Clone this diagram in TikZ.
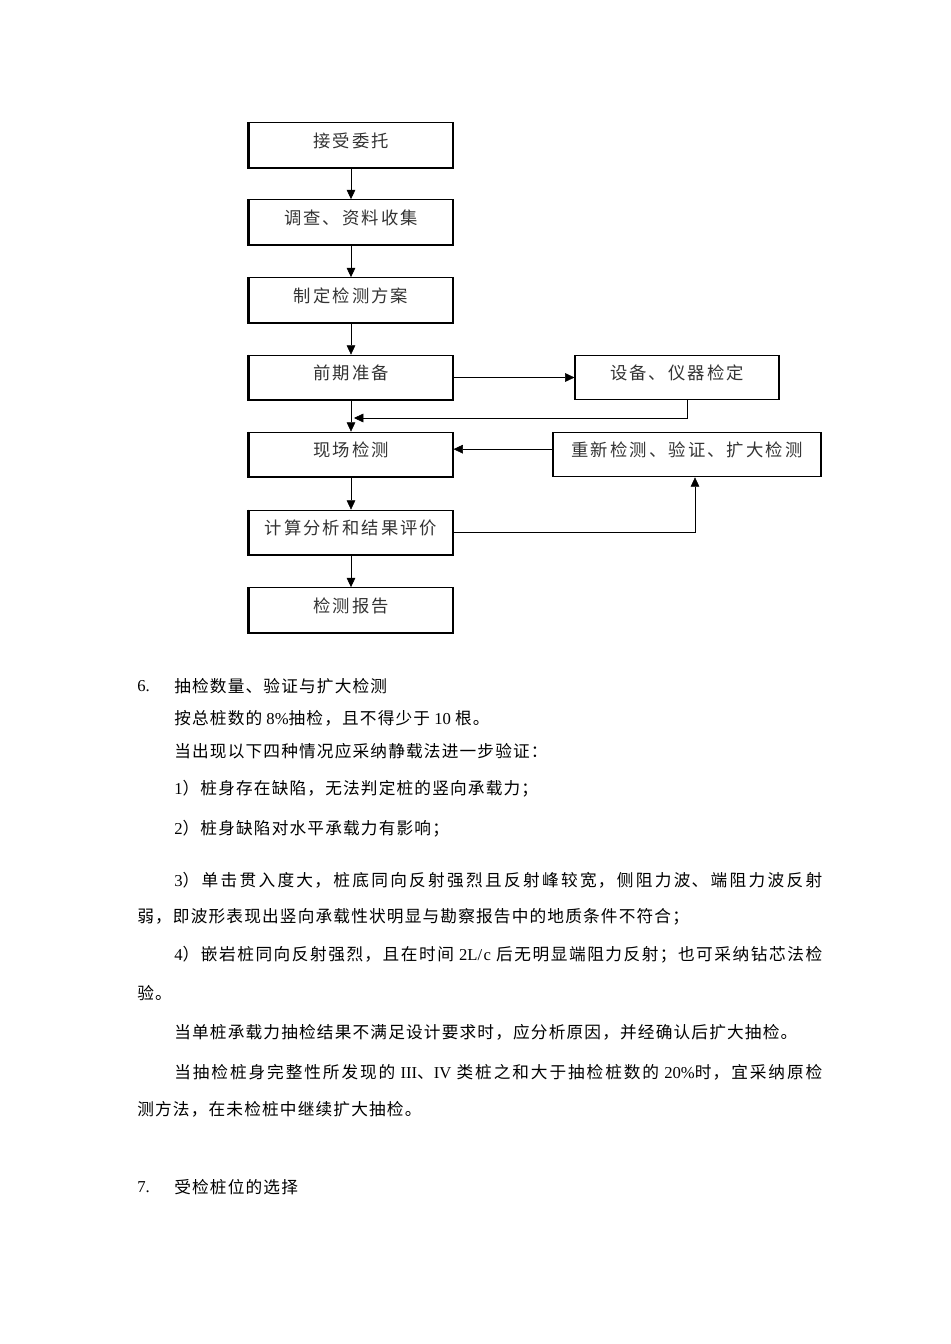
\documentclass[tikz,border=0pt]{standalone}
\usepackage{fontspec}
\setmainfont{Noto Sans CJK SC}[LetterSpace=7]
\newfontfamily\en{Liberation Serif}
\newfontfamily\boxfont{Noto Sans CJK SC}[LetterSpace=12]
\usetikzlibrary{arrows.meta,positioning,calc}
\XeTeXlinebreaklocale "zh"
\XeTeXlinebreakskip=0pt plus 3pt
\tikzset{>={Triangle[length=7pt,width=6.5pt]},
	stepbox/.style={draw=black,line width=0.8pt,minimum width=153pt,minimum height=33.5pt,inner sep=0pt,
		font=\boxfont\fontsize{13pt}{15pt}\selectfont,text=black!80,text height=11pt,text depth=7.6pt},
	txt/.style={anchor=west,inner sep=0pt,font=\fontsize{12.5pt}{15pt}\selectfont},
	jline/.style={txt,text width=486pt,align=justify,execute at begin node={\parfillskip=0pt\noindent}}}

\begin{document}
\begin{tikzpicture}[x=0.75pt,y=-0.75pt]
	\useasboundingbox (0,0) rectangle (950,1344);
	% flow chart
	\node (b1) at (351,145) [stepbox] {接受委托};
	\node (b2) at (351,222) [stepbox] {调查、资料收集};
	\node (b3) at (351,300) [stepbox] {制定检测方案};
	\node (b4) at (351,377.5) [stepbox] {前期准备};
	\node (b5) at (677,377.5) [stepbox] {设备、仪器检定};
	\node (b6) at (351,454.5) [stepbox] {现场检测};
	\node (b7) at (687,454.5) [stepbox,minimum width=201pt] {重新检测、验证、扩大检测};
	\node (b8) at (351,532.5) [stepbox] {计算分析和结果评价};
	\node (b9) at (351,610) [stepbox] {检测报告};
	\foreach \b in {b1,b2,b3,b4,b6,b8,b9}
		\draw [line width=1.2pt] ([xshift=-0.2pt]\b.north west) -- ([xshift=-0.2pt,yshift=-0.2pt]\b.south west) -- ([yshift=-0.2pt]\b.south east);
	\coordinate (j1) at (354,418);
	\draw [->] (b1) -- (b2);
	\draw [->] (b2) -- (b3);
	\draw [->] (b3) -- (b4);
	\draw [->] (b4) -- (b6);
	\draw [->] (b6) -- (b8);
	\draw [->] (b8) -- (b9);
	\draw [->] (b4) -- (b5);
	\draw [->] ([xshift=7.5pt]b5.south) |- (j1);
	\draw [->] ([yshift=4pt]b7.west) -- ([yshift=4pt]b6.east);
	\draw [->] (b8.east) -| ([xshift=6pt]b7.south);
	% text below
	\node (n6) at (137,686) [txt] {\en 6.};
	\node (h6) at (174,686) [txt] {抽检数量、验证与扩大检测};
	\node (l1) at (174,718) [txt] {按总桩数的{\en\ 8\%}抽检，且不得少于{\en\ 10\ }根。};
	\node (l2) at (174,751) [txt] {当出现以下四种情况应采纳静载法进一步验证：};
	\node (l3) at (174,789) [txt] {{\en 1}）桩身存在缺陷，无法判定桩的竖向承载力；};
	\node (l4) at (174,829) [txt] {{\en 2}）桩身缺陷对水平承载力有影响；};
	\node (l5) at (174,880) [jline] {{\en 3}）单击贯入度大，桩底同向反射强烈且反射峰较宽，侧阻力波、端阻力波反射};
	\node (l6) at (137,917) [txt] {弱，即波形表现出竖向承载性状明显与勘察报告中的地质条件不符合；};
	\node (l7) at (174,955) [jline] {{\en 4}）嵌岩桩同向反射强烈，且在时间{\en\ 2L/c\ }后无明显端阻力反射；也可采纳钻芯法检};
	\node (l8) at (137,993) [txt] {验。};
	\node (l9) at (174,1032) [txt] {当单桩承载力抽检结果不满足设计要求时，应分析原因，并经确认后扩大抽检。};
	\node (l10) at (174,1072) [jline] {当抽检桩身完整性所发现的{\en\ III}、{\en IV\ }类桩之和大于抽检桩数的{\en\ 20\%}时，宜采纳原检};
	\node (l11) at (137,1109) [txt] {测方法，在未检桩中继续扩大抽检。};
	\node (n7) at (137,1187) [txt] {\en 7.};
	\node (h7) at (174,1187) [txt] {受检桩位的选择};
\end{tikzpicture}
\end{document}
